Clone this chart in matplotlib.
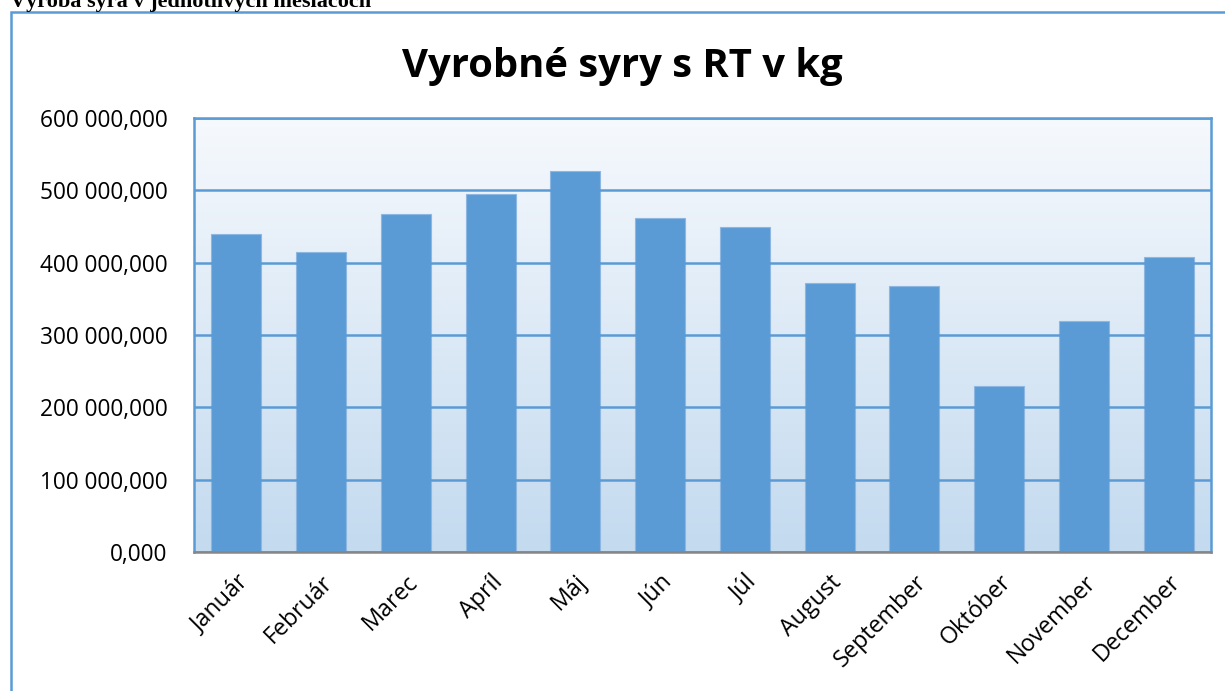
import numpy as np
import matplotlib
matplotlib.use("Agg")
import matplotlib.pyplot as plt
from matplotlib.patches import Rectangle
from matplotlib.colors import LinearSegmentedColormap

months = ["Január", "Február", "Marec", "Apríl", "Máj", "Jún", "Júl",
          "August", "September", "Október", "November", "December"]
values = [439e6, 415e6, 467e6, 495e6, 527e6, 462e6, 450e6,
          372e6, 368e6, 229e6, 320e6, 408e6]
yticks = [0, 100e6, 200e6, 300e6, 400e6, 500e6, 600e6]
ytick_labels = ["0,000", "100 000,000", "200 000,000", "300 000,000",
                "400 000,000", "500 000,000", "600 000,000"]
title = "Vyrobné syry s RT v kg"
caption = "Výroba syra v jednotlivých mesiacoch"

W, H = 1225, 691
fig = plt.figure(figsize=(W / 100, H / 100), dpi=100)
fig.patch.set_facecolor("white")

blue = "#5B9BD5"
font = "Open Sans"

# outer chart frame (extends past right/bottom edges)
fig.patches.append(Rectangle((11 / W, -0.05), 1.2, 1 - 12 / H + 0.05,
                             transform=fig.transFigure, fill=False,
                             edgecolor=blue, linewidth=1.8, zorder=0))

# caption at the top, cropped as in the source image
fig.text(10 / W, 1 - 7 / H, caption, family="Liberation Serif",
         fontweight="bold", fontsize=16, ha="left", va="baseline",
         color="black")

ax = fig.add_axes([194 / W, 1 - 552 / H, (1211 - 194) / W, (552 - 118) / H])
x = np.arange(len(months))
ax.set_xlim(-0.5, len(months) - 0.5)
ax.set_ylim(0, 600e6)

# gradient background
grad = np.linspace(0, 1, 256).reshape(-1, 1)
cmap = LinearSegmentedColormap.from_list("bg", ["#C3DAEF", "#F6F9FD"])
ax.imshow(grad, cmap=cmap, aspect="auto", origin="lower",
          extent=(-0.5, len(months) - 0.5, 0, 600e6), zorder=0)

ax.set_yticks(yticks)
ax.set_yticklabels(ytick_labels)
ax.yaxis.grid(True, color=blue, linewidth=1.8, zorder=1)
ax.set_axisbelow(False)
ax.bar(x, values, width=0.59, color=blue, edgecolor="#8DB6E0",
       linewidth=0.8, zorder=2)

for s in ["left", "top", "right"]:
    ax.spines[s].set_color(blue)
    ax.spines[s].set_linewidth(1.8)
ax.spines["bottom"].set_color("#868686")
ax.spines["bottom"].set_linewidth(1.8)
ax.spines["bottom"].set_zorder(3)

ax.tick_params(axis="both", length=0)
ax.tick_params(axis="y", pad=19)
ax.set_xticks(x)
ax.set_xticklabels(months, rotation=45, ha="right", va="top",
                   rotation_mode="anchor")
ax.tick_params(axis="x", pad=13)
for lab in ax.get_yticklabels():
    lab.set_family(font)
    lab.set_fontsize(16.3)
    lab.set_color("black")
for lab in ax.get_xticklabels():
    lab.set_family(font)
    lab.set_fontsize(16.8)
    lab.set_color("black")

fig.text(622 / W, 1 - 66 / H, title, family=font, fontweight="bold",
         fontsize=28.8, ha="center", va="center", color="black")

fig.savefig("out.png", dpi=100)
